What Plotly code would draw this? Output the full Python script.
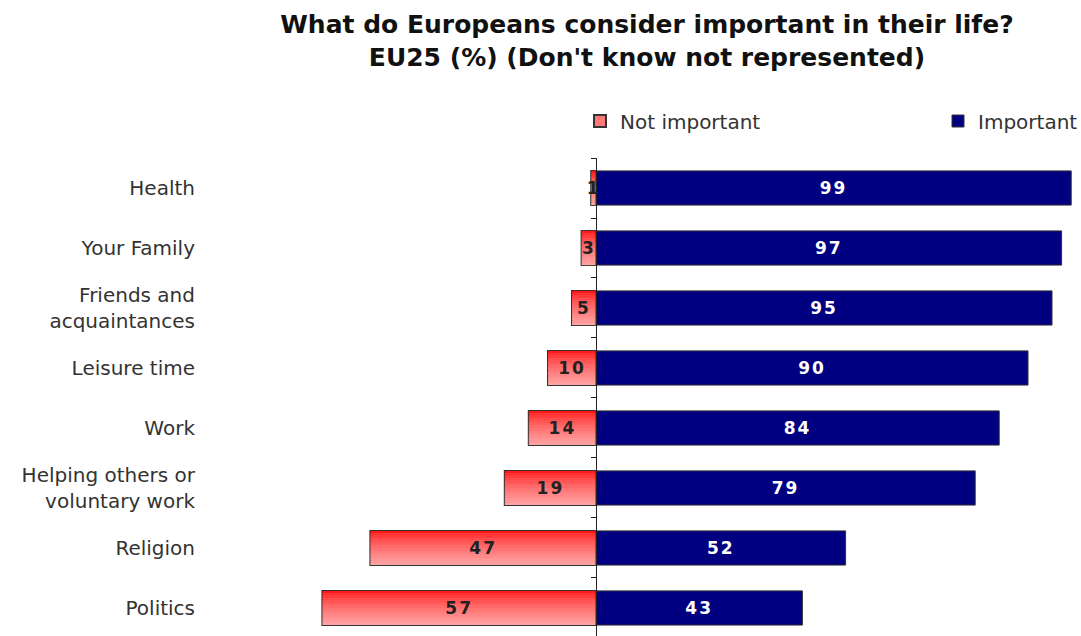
import plotly.graph_objects as go

categories = ["Health", "Your Family", "Friends and<br>acquaintances", "Leisure time",
              "Work", "Helping others or<br>voluntary work", "Religion", "Politics"]
not_important = [1, 3, 5, 10, 14, 19, 47, 57]
important = [99, 97, 95, 90, 84, 79, 52, 43]

title_text = "What do Europeans consider important in their life?<br>EU25 (%) (Don't know not represented)"

BAR_W = 0.57
N_SLICES = 14
neg = [-v for v in not_important]
val_tmpl = '<span style="letter-spacing:2px">%{text}</span>'

fig = go.Figure()

# outline / legend trace for "Not important" (drawn under gradient slices)
fig.add_trace(go.Bar(
    y=categories, x=neg, orientation="h", name="Not important",
    width=BAR_W, marker=dict(color="#ff7878", line=dict(color="#333333", width=2)),
    hoverinfo="skip", legend="legend"))

# gradient slices
for i in range(N_SLICES):
    t = (i + 0.5) / N_SLICES
    f = min(1.0, t ** 0.6)
    g = int(0 + 168 * f)
    col = f"rgb(255,{g},{g})"
    fig.add_trace(go.Bar(
        y=categories, x=neg, orientation="h", showlegend=False,
        width=BAR_W / N_SLICES, offset=-BAR_W / 2 + i * BAR_W / N_SLICES,
        marker=dict(color=col, line=dict(width=0)), hoverinfo="skip"))

fig.add_trace(go.Bar(
    y=categories, x=important, orientation="h", name="Important",
    width=BAR_W, marker=dict(color="#000080", line=dict(color="#333333", width=1)),
    text=important, texttemplate=val_tmpl, textposition="inside", insidetextanchor="middle",
    textfont=dict(family="DejaVu Sans", size=17, color="white", weight="bold"),
    constraintext="none", hoverinfo="skip", legend="legend2"))

# labels for not-important bars
fig.add_trace(go.Bar(
    y=categories, x=neg, orientation="h", showlegend=False,
    width=BAR_W, marker=dict(color="rgba(0,0,0,0)", line=dict(width=0)),
    text=not_important, texttemplate=val_tmpl, textposition="inside", insidetextanchor="middle",
    textfont=dict(family="DejaVu Sans", size=17, color="#222222", weight="bold"),
    constraintext="none", hoverinfo="skip"))

# helper trace for the zero-axis with boundary ticks
fig.add_trace(go.Scatter(x=[None], y=[None], yaxis="y2", showlegend=False, hoverinfo="skip"))

L = 212
plot_w = 1081 - 5 - L
plot_h = 636 - 158
x_min, x_max = -80, 100
zero_frac = (0 - x_min) / (x_max - x_min)
y_range = [7.467, -0.5]
leg_y = 1 + (158 - 121) / plot_h
leg_font = dict(family="DejaVu Sans", size=20, color="#333333")

fig.update_layout(
    width=1081, height=636,
    margin=dict(l=L, r=5, t=158, b=0, pad=0, autoexpand=False),
    paper_bgcolor="white", plot_bgcolor="white",
    barmode="overlay",
    title=dict(text=title_text, x=(647 - L) / plot_w, xref="paper", xanchor="center",
               yref="container", y=1 - 33 / 636, yanchor="middle",
               font=dict(family="DejaVu Sans", size=25, color="#111111", weight="bold")),
    xaxis=dict(range=[x_min, x_max], showgrid=False, zeroline=False, showticklabels=False,
               ticks="", showline=False, fixedrange=True),
    yaxis=dict(type="category", categoryorder="array", categoryarray=categories,
               range=y_range, showgrid=False, zeroline=False, ticks="", showline=False,
               tickfont=dict(family="DejaVu Sans", size=20, color="#333333"),
               ticklabelstandoff=16, automargin=False),
    yaxis2=dict(overlaying="y", anchor="free", position=zero_frac, range=y_range,
                tickmode="array", tickvals=[-0.5 + k for k in range(9)],
                showticklabels=False, ticks="outside", ticklen=5, tickcolor="#222222",
                showline=True, linecolor="#222222", linewidth=1, showgrid=False, zeroline=False),
    legend=dict(orientation="h", x=(580 - L) / plot_w, xanchor="left", y=leg_y, yanchor="middle",
                font=leg_font, bgcolor="rgba(0,0,0,0)", borderwidth=0),
    legend2=dict(orientation="h", x=(938 - L) / plot_w, xanchor="left", y=leg_y, yanchor="middle",
                 font=leg_font, bgcolor="rgba(0,0,0,0)", borderwidth=0),
    showlegend=True,
)

fig.write_html("out.html")
